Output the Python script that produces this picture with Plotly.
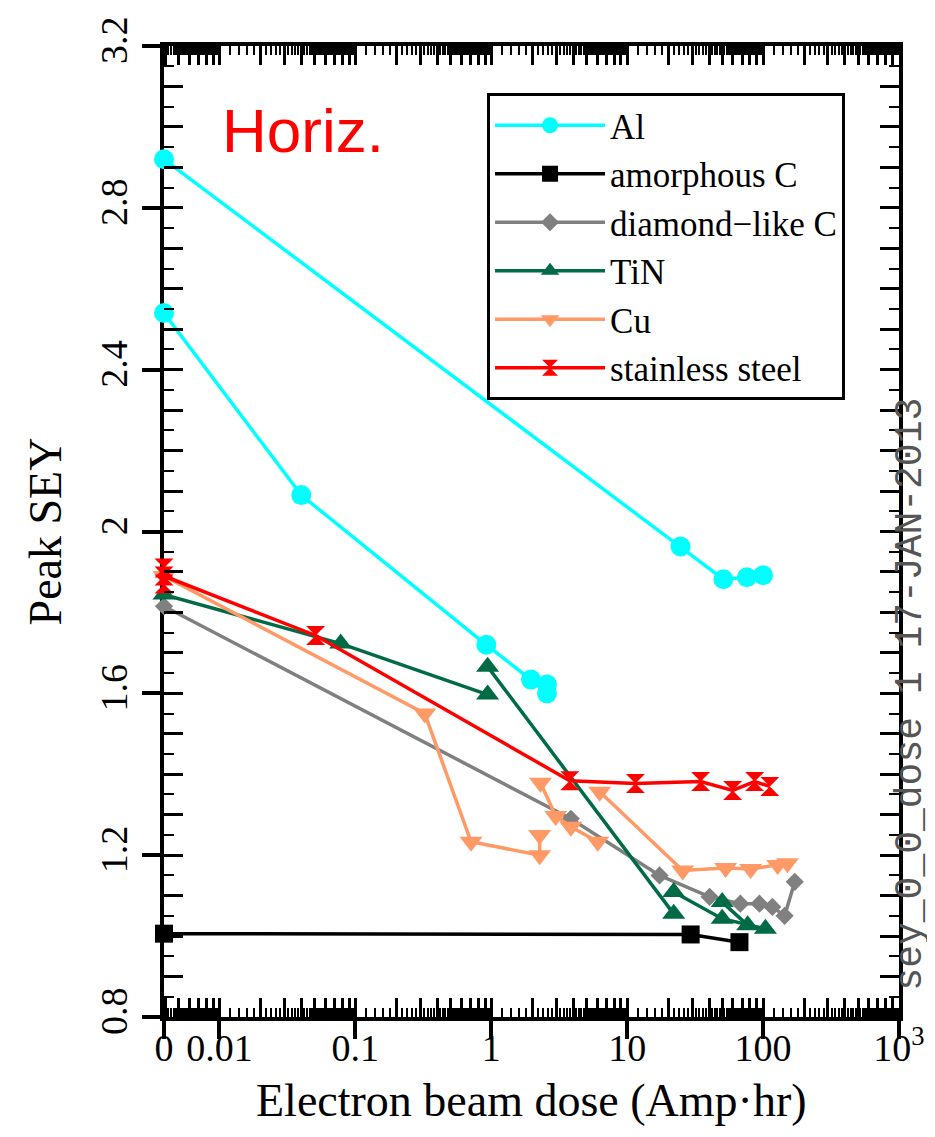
import plotly.graph_objects as go

# ---------------- data ----------------
# dose value 0 is drawn at the left edge of the log axis
ZERO_POS = 10 ** -2.408

al_dose = [0, 24.7, 51, 76, 100, None, 0, 0.04, 0.92, 1.96, 2.57, 2.57]
al_sey = [2.92, 1.963, 1.882, 1.887, 1.892, None, 2.54, 2.09, 1.72, 1.634, 1.622, 1.60]

amc_dose = [0, 29.3, 67]
amc_sey = [1.006, 1.004, 0.985]

dlc_dose = [0, 3.85, 17.3, 40.4, 68, 94, 117, 144, 171]
dlc_sey = [1.815, 1.29, 1.150, 1.097, 1.08, 1.08, 1.072, 1.05, 1.134]

tin_dose = [0, 0.078, 0.94, None, 0.94, 22, None, 22, 50, 104, None, 50, 77]
tin_sey = [1.844, 1.723, 1.597, None, 1.666, 1.055, None, 1.109, 1.043, 1.018, None, 1.084, 1.027]

cu_dose = [0, 0.324, 0.71, 2.27, 2.27, None, 2.3, 2.98, 3.85, 6.07, None,
           6.28, 25.6, 53, 81, 128, 151]
cu_sey = [1.89, 1.55, 1.233, 1.20, 1.25, None, 1.379, 1.297, 1.27, 1.233, None,
          1.357, 1.162, 1.168, 1.166, 1.176, 1.18]

ss_dose = [0, 0, 0, 0.051, 3.78, 11.5, 34.7, 59.7, 86.6, 112]
ss_sey = [1.87, 1.91, 1.89, 1.743, 1.384, 1.377, 1.382, 1.36, 1.382, 1.37]

x_tick_vals = [ZERO_POS, 0.01, 0.1, 1, 10, 100, 1000]
x_tick_text = ["0", "0.01", "0.1", "1", "10", "100", "10<sup>3</sup>"]
y_tick_vals = [0.8, 1.2, 1.6, 2.0, 2.4, 2.8, 3.2]
y_tick_text = ["0.8", "1.2", "1.6", "2", "2.4", "2.8", "3.2"]


def xpos(vals):
    return [None if v is None else (ZERO_POS if v == 0 else v) for v in vals]


# ---------------- styling ----------------
SERIF = "Liberation Serif"
series = [
    ("Al", al_dose, al_sey, "#00FFFF", "circle", 20),
    ("amorphous C", amc_dose, amc_sey, "#000000", "square", 18),
    ("diamond\u2212like C", dlc_dose, dlc_sey, "#808080", "diamond", 14),
    ("TiN", tin_dose, tin_sey, "#006B45", "triangle-up", 20),
    ("Cu", cu_dose, cu_sey, "#FF9966", "triangle-down", 20),
    ("stainless steel", ss_dose, ss_sey, "#FF0000", "hourglass", 19),
]

fig = go.Figure()
for name, xs, ys, col, sym, size in series:
    fig.add_trace(go.Scatter(
        x=xpos(xs), y=ys, name=name, mode="lines+markers",
        line=dict(color=col, width=3.5),
        marker=dict(color=col, symbol=sym, size=size, line=dict(width=0)),
        cliponaxis=False, connectgaps=False,
    ))

# empty traces so that the tick-only overlay axes exist
fig.add_trace(go.Scatter(x=[], y=[], xaxis="x2", yaxis="y2", showlegend=False, hoverinfo="skip"))
fig.add_trace(go.Scatter(x=[], y=[], xaxis="x3", yaxis="y3", showlegend=False, hoverinfo="skip"))

# tick positions for the dense log ticks
int_ticks, fine_ticks = [], []
for e in range(-3, 3):
    d = 10.0 ** e
    for k in range(5, 50):
        v = k / 5 * d
        if v < ZERO_POS or v > 1000:
            continue
        if k % 5 == 0:
            int_ticks.append(v)
        else:
            fine_ticks.append(v)
int_ticks.append(1000)

XR = [-2.408, 3]
YR = [0.8, 3.2]

tick_font = dict(family=SERIF, size=38, color="black")

overlay_x = dict(
    type="log", range=XR, overlaying="x", anchor="y", automargin=False,
    tickmode="array", tickvals=int_ticks, ticks="inside", ticklen=19, tickwidth=2.5,
    tickcolor="black", showticklabels=False, showgrid=False, zeroline=False,
    showline=False,
    minor=dict(tickmode="array", tickvals=fine_ticks, ticks="inside", ticklen=9,
               tickwidth=1.5, tickcolor="black", showgrid=False),
)
overlay_y = dict(
    range=YR, overlaying="y", anchor="x", automargin=False,
    tickmode="linear", tick0=0.8, dtick=0.1, ticks="inside", ticklen=19, tickwidth=3,
    tickcolor="black", showticklabels=False, showgrid=False, zeroline=False,
    showline=False,
    minor=dict(tickmode="linear", tick0=0.8, dtick=0.05, ticks="inside", ticklen=10,
               tickwidth=2, tickcolor="black", showgrid=False),
)

fig.update_layout(
    width=935, height=1137,
    margin=dict(l=156, r=44, t=38, b=128, autoexpand=False),
    paper_bgcolor="white", plot_bgcolor="white",
    showlegend=True,
    xaxis=dict(
        type="log", range=XR, tickmode="array", tickvals=x_tick_vals, ticktext=x_tick_text,
        tickangle=0, ticklabelstandoff=-24,
        ticks="outside", ticklen=18, tickwidth=4, tickcolor="black",
        showline=True, linewidth=4, linecolor="black", mirror=True,
        showgrid=False, zeroline=False, layer="below traces", automargin=False,
        tickfont=tick_font,
    ),
    yaxis=dict(
        range=YR, tickmode="array", tickvals=y_tick_vals, ticktext=y_tick_text,
        tickangle=-90,
        ticks="outside", ticklen=18, tickwidth=4, tickcolor="black",
        showline=True, linewidth=4, linecolor="black", mirror=True,
        showgrid=False, zeroline=False, layer="below traces", automargin=False,
        tickfont=tick_font,
        title=dict(text="Peak SEY", font=dict(family=SERIF, size=46, color="black"),
                   standoff=18),
    ),
    xaxis2=dict(overlay_x, side="bottom"),
    xaxis3=dict(overlay_x, side="top"),
    yaxis2=dict(overlay_y, side="left"),
    yaxis3=dict(overlay_y, side="right"),
    legend=dict(
        x=0.4395, y=0.9516, xanchor="left", yanchor="top",
        bgcolor="white", bordercolor="black", borderwidth=3,
        font=dict(family=SERIF, size=35, color="black"),
        itemwidth=110, tracegroupgap=0,
    ),
    annotations=[
        dict(text="Electron beam dose (Amp\u00b7hr)", xref="paper", yref="paper",
             x=0.5, y=-0.0855, xanchor="center", yanchor="middle", showarrow=False,
             font=dict(family=SERIF, size=46, color="black")),
        dict(text="Horiz.", xref="paper", yref="paper", x=0.0762, y=0.913,
             xanchor="left", yanchor="middle", showarrow=False,
             font=dict(family="Liberation Sans", size=62, color="#FF0000")),
        dict(text="sey_0_0_dose 1 17-JAN-2013", xref="paper", yref="paper",
             x=1.0163, y=0.333, xanchor="center", yanchor="middle", textangle=-90,
             showarrow=False, font=dict(family="Liberation Mono", size=38, color="#555555")),
    ],
)

fig.write_html("out.html")
